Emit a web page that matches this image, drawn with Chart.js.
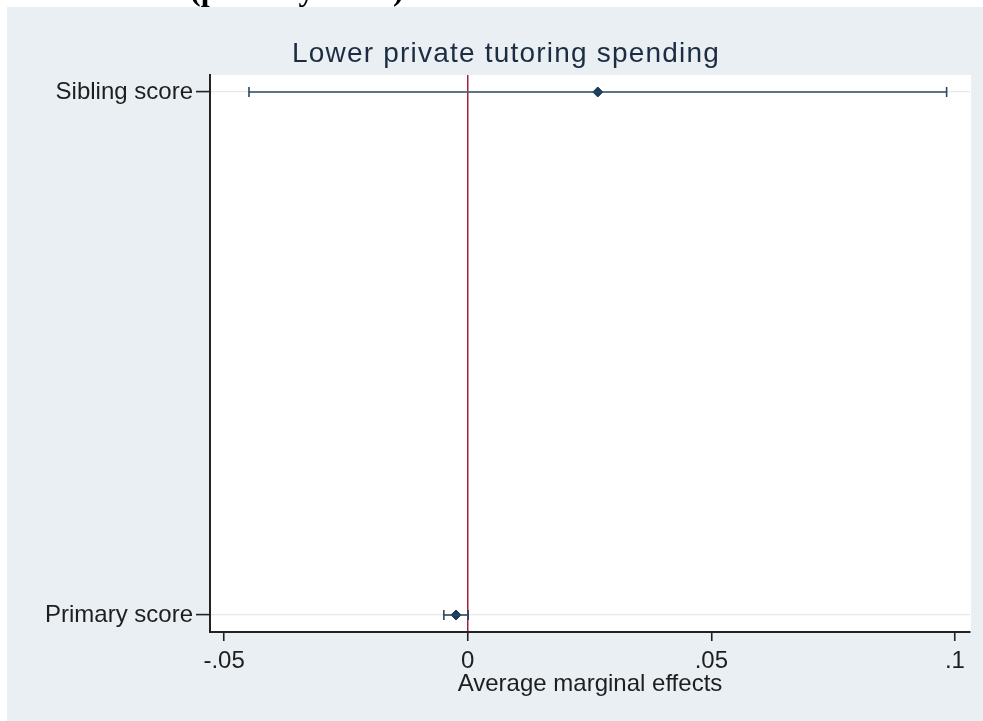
<!DOCTYPE html>
<html>
<head>
<meta charset="utf-8">
<title>Lower private tutoring spending</title>
<script src="https://cdn.jsdelivr.net/npm/chart.js@4.4.0/dist/chart.umd.min.js"></script>
<style>
body { margin: 0; background: #fff; }
#wrap { width: 983px; height: 721px; }
</style>
</head>
<body>
<div id="wrap"><canvas id="myChart" width="983" height="721"></canvas></div>
<script>
// values
const categories = ["Primary score", "Sibling score"];
const positions = [0, 1];
const estimates = [-0.0024, 0.0267];
const lowerCI = [-0.0049, -0.0449];
const upperCI = [0.0001, 0.0983];
const xTicks = [-0.05, 0, 0.05, 0.1];
const xTickLabels = ["-.05", "0", ".05", ".1"];
const refLine = 0;
const titleText = "Lower private tutoring spending";
const xTitle = "Average marginal effects";
const headingText = "(primary score)";

const ciColor = '#2e4860';
const dotColor = '#1b3b5a';

// background, plot region, title
const backdrop = {
    id: 'backdrop',
    beforeDraw(chart) {
        const ctx = chart.ctx;
        const a = chart.chartArea;
        ctx.save();
        ctx.fillStyle = '#ffffff';
        ctx.fillRect(0, 0, chart.width, chart.height);
        ctx.fillStyle = '#e9eff2';
        ctx.fillRect(7, 7, chart.width - 7, chart.height - 7);
        ctx.fillStyle = '#ffffff';
        ctx.fillRect(a.left, a.top, a.right - a.left + 1, a.bottom - a.top);
        ctx.restore();
    },
    afterDraw(chart) {
        const ctx = chart.ctx;
        ctx.save();
        ctx.fillStyle = '#000000';
        ctx.font = 'bold 32px "Liberation Serif", "Times New Roman", serif';
        ctx.textAlign = 'left';
        ctx.textBaseline = 'alphabetic';
        ctx.fillText(headingText, 190, 0);
        ctx.fillStyle = '#1c2c42';
        ctx.font = '28px "Liberation Sans", Arial, sans-serif';
        if ('letterSpacing' in ctx) ctx.letterSpacing = '1.2px';
        ctx.textAlign = 'center';
        ctx.fillText(titleText, 506, 62);
        ctx.restore();
    }
};

const ciSets = categories.map((c, i) => ({
    type: 'line',
    label: c + ' CI',
    data: [{x: lowerCI[i], y: positions[i]}, {x: upperCI[i], y: positions[i]}],
    borderColor: ciColor,
    borderWidth: 1.6,
    showLine: true,
    pointStyle: 'line',
    pointRotation: 90,
    pointRadius: 5,
    pointBorderColor: ciColor,
    pointBorderWidth: 1.6
}));

const estSet = {
    type: 'scatter',
    label: 'Estimate',
    data: positions.map((p, i) => ({x: estimates[i], y: p})),
    pointStyle: 'rectRot',
    pointRadius: 5,
    backgroundColor: dotColor,
    borderColor: dotColor,
    borderWidth: 1
};

function CreateChart() {
    let ctx = document.getElementById('myChart').getContext('2d');
    new Chart(ctx, {
        type: 'scatter',
        data: { datasets: [...ciSets, estSet] },
        plugins: [backdrop],
        options: {
            responsive: false,
            animation: false,
            layout: { padding: { left: 0, right: 13, top: 75, bottom: 0 } },
            plugins: {
                legend: { display: false },
                tooltip: { enabled: false }
            },
            scales: {
                x: {
                    type: 'linear',
                    min: -0.0529,
                    max: 0.1031,
                    afterBuildTicks: s => { s.ticks = xTicks.map(v => ({value: v})); },
                    afterFit: s => { s.height = 89; },
                    ticks: {
                        callback: v => xTickLabels[xTicks.indexOf(v)],
                        font: { family: '"Liberation Sans", Arial, sans-serif', size: 24 },
                        color: '#1e1e1e',
                        padding: 6,
                        maxRotation: 0
                    },
                    grid: {
                        color: c => (c.tick && c.tick.value === refLine) ? '#a3213f' : 'rgba(0,0,0,0)',
                        lineWidth: 1.5,
                        tickColor: '#222',
                        tickLength: 9,
                        tickWidth: 1.6
                    },
                    border: { display: true, color: '#222', width: 2 },
                    title: {
                        display: true,
                        text: xTitle,
                        font: { family: '"Liberation Sans", Arial, sans-serif', size: 24 },
                        color: '#1e1e1e',
                        padding: { top: 4, bottom: 22 }
                    }
                },
                y: {
                    type: 'linear',
                    min: -0.0325,
                    max: 1.0325,
                    afterBuildTicks: s => { s.ticks = positions.map(v => ({value: v})); },
                    afterFit: s => { s.width = 210; },
                    ticks: {
                        callback: v => categories[positions.indexOf(v)],
                        font: { family: '"Liberation Sans", Arial, sans-serif', size: 24 },
                        color: '#1e1e1e',
                        padding: 3
                    },
                    grid: {
                        color: '#e3e9ec',
                        lineWidth: 1.2,
                        tickColor: '#222',
                        tickLength: 14,
                        tickWidth: 1.6
                    },
                    border: { display: true, color: '#222', width: 2 }
                }
            }
        }
    });
}

CreateChart();
</script>
</body>
</html>
